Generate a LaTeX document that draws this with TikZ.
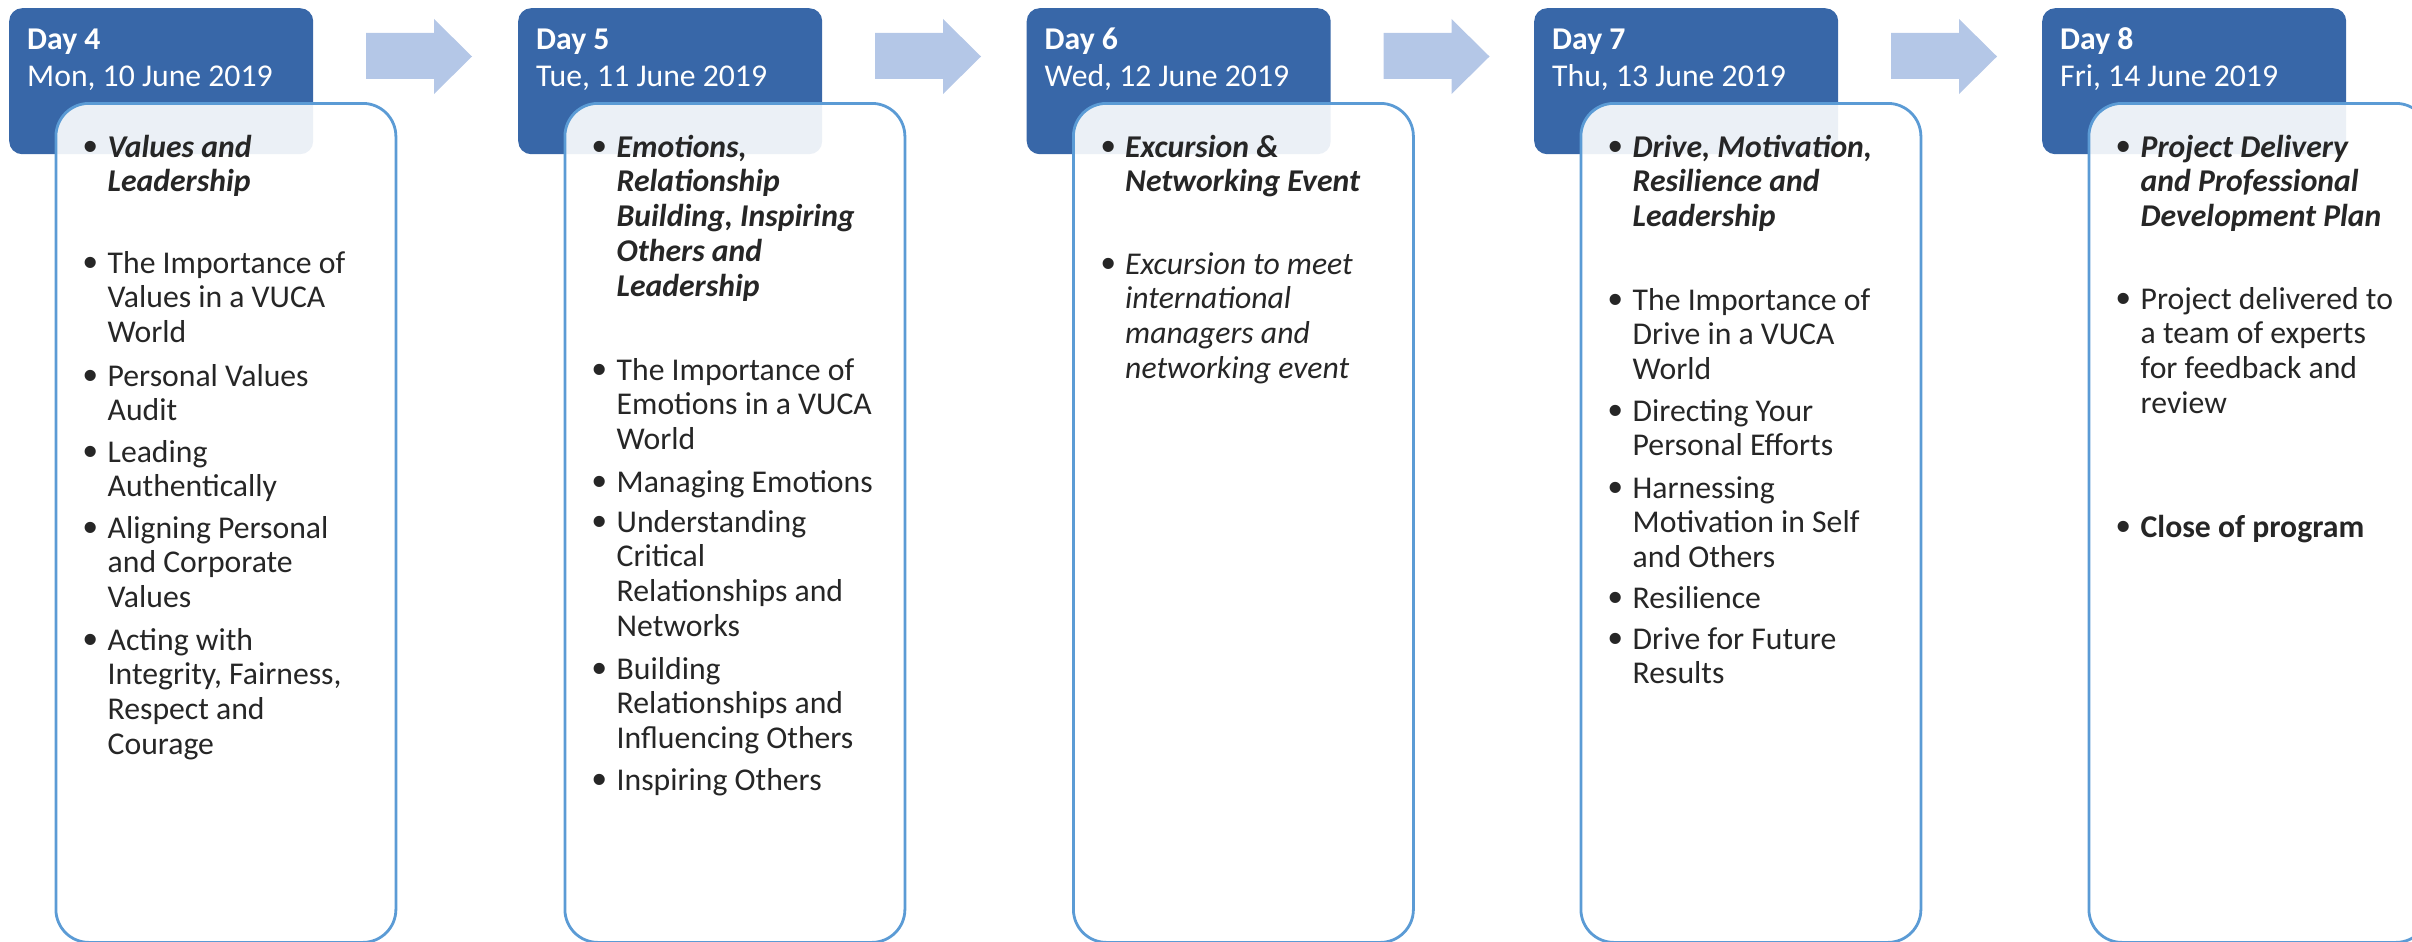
\documentclass[tikz,border=0pt]{standalone}
\usepackage{fontspec}
\setmainfont{Carlito}
\newfontfamily\bulletfont{Liberation Sans}
\definecolor{hdrblue}{HTML}{3867A8}
\definecolor{arrowblue}{HTML}{B4C7E7}
\definecolor{boxline}{HTML}{5B9BD5}
\definecolor{txtgrey}{HTML}{262626}
\newcommand\lns[1]{\begin{tabular}[t]{@{}l@{}}#1\end{tabular}}
\newcommand\bul{\llap{\raisebox{-3pt}{\normalfont\bulletfont\fontsize{41pt}{41pt}\selectfont •}\hspace{9.75pt}}}
\tikzset{
  hdrbox/.style={fill=hdrblue, draw=none, rounded corners=13pt, anchor=north west,
    inner sep=0pt, minimum width=304pt, minimum height=146pt},
  card/.style={draw=boxline, line width=2.8pt, fill=white, fill opacity=0.9,
    rounded corners=33pt, anchor=north west, inner sep=0pt,
    minimum width=340pt, minimum height=839pt},
  hdrtext/.style={text=white, anchor=base west, inner sep=0pt,
    font=\fontsize{31.7pt}{37pt}\selectfont},
  item/.style={text=txtgrey, anchor=base west, inner sep=0pt,
    font=\fontsize{31.7pt}{34.9pt}\selectfont},
  blockarrow/.style={fill=arrowblue, draw=none}
}
\begin{document}
\begin{tikzpicture}[x=1pt, y=-1pt]
\useasboundingbox (0,0) rectangle (2412,942);
\clip (0,0) rectangle (2412,942);

% ---------- arrows ----------
\foreach \a in {366,875,1383.5,1891}{
  \fill[blockarrow] (\a,33) -- (\a+68,33) -- (\a+68,19) -- (\a+106,56.5)
    -- (\a+68,94) -- (\a+68,79) -- (\a,79) -- cycle;
}

% ---------- Day 4 ----------
\node[hdrbox] (h4) at (9,8) {};
\node[hdrtext] (h4a) at (27,50) {\bfseries Day 4};
\node[hdrtext] (h4b) at (27,87) {Mon, 10 June 2019};
\node[card] (c4) at (54.5,102) {};
\node[item] (c4i1) at (107.5,157) {\bfseries\itshape\bul\lns{Values and\\Leadership}};
\node[item] (c4i2) at (107.5,273) {\bul\lns{The Importance of\\Values in a VUCA\\World}};
\node[item] (c4i3) at (107.5,386) {\bul\lns{Personal Values\\Audit}};
\node[item] (c4i4) at (107.5,462) {\bul\lns{Leading\\Authentically}};
\node[item] (c4i5) at (107.5,538) {\bul\lns{Aligning Personal\\and Corporate\\Values}};
\node[item] (c4i6) at (107.5,650) {\bul\lns{Acting with\\Integrity, Fairness,\\Respect and\\Courage}};

% ---------- Day 5 ----------
\node[hdrbox] (h5) at (518,8) {};
\node[hdrtext] (h5a) at (536,50) {\bfseries Day 5};
\node[hdrtext] (h5b) at (536,87) {Tue, 11 June 2019};
\node[card] (c5) at (563.5,102) {};
\node[item] (c5i1) at (616.5,157) {\bfseries\itshape\bul\lns{Emotions,\\Relationship\\Building, Inspiring\\Others and\\Leadership}};
\node[item] (c5i2) at (616.5,380) {\bul\lns{The Importance of\\Emotions in a VUCA\\World}};
\node[item] (c5i3) at (616.5,492) {\bul\lns{Managing Emotions}};
\node[item] (c5i4) at (616.5,532) {\bul\lns{Understanding\\Critical\\Relationships and\\Networks}};
\node[item] (c5i5) at (616.5,679) {\bul\lns{Building\\Relationships and\\Influencing Others}};
\node[item] (c5i6) at (616.5,790) {\bul\lns{Inspiring Others}};

% ---------- Day 6 ----------
\node[hdrbox] (h6) at (1026.5,8) {};
\node[hdrtext] (h6a) at (1044.5,50) {\bfseries Day 6};
\node[hdrtext] (h6b) at (1044.5,87) {Wed, 12 June 2019};
\node[card] (c6) at (1072,102) {};
\node[item] (c6i1) at (1125,157) {\bfseries\itshape\bul\lns{Excursion \&\\Networking Event}};
\node[item] (c6i2) at (1125,274) {\itshape\bul\lns{Excursion to meet\\international\\managers and\\networking event}};

% ---------- Day 7 ----------
\node[hdrbox] (h7) at (1534,8) {};
\node[hdrtext] (h7a) at (1552,50) {\bfseries Day 7};
\node[hdrtext] (h7b) at (1552,87) {Thu, 13 June 2019};
\node[card] (c7) at (1579.5,102) {};
\node[item] (c7i1) at (1632.5,157) {\bfseries\itshape\bul\lns{Drive, Motivation,\\Resilience and\\Leadership}};
\node[item] (c7i2) at (1632.5,310) {\bul\lns{The Importance of\\Drive in a VUCA\\World}};
\node[item] (c7i3) at (1632.5,421) {\bul\lns{Directing Your\\Personal Efforts}};
\node[item] (c7i4) at (1632.5,498) {\bul\lns{Harnessing\\Motivation in Self\\and Others}};
\node[item] (c7i5) at (1632.5,608) {\bul\lns{Resilience}};
\node[item] (c7i6) at (1632.5,649) {\bul\lns{Drive for Future\\Results}};

% ---------- Day 8 ----------
\node[hdrbox] (h8) at (2042,8) {};
\node[hdrtext] (h8a) at (2060,50) {\bfseries Day 8};
\node[hdrtext] (h8b) at (2060,87) {Fri, 14 June 2019};
\node[card] (c8) at (2087.5,102) {};
\node[item] (c8i1) at (2140.5,157) {\bfseries\itshape\bul\lns{Project Delivery\\and Professional\\Development Plan}};
\node[item] (c8i2) at (2140.5,309) {\bul\lns{Project delivered to\\a team of experts\\for feedback and\\review}};
\node[item] (c8i3) at (2140.5,537) {\bfseries\bul\lns{Close of program}};
\end{tikzpicture}
\end{document}
